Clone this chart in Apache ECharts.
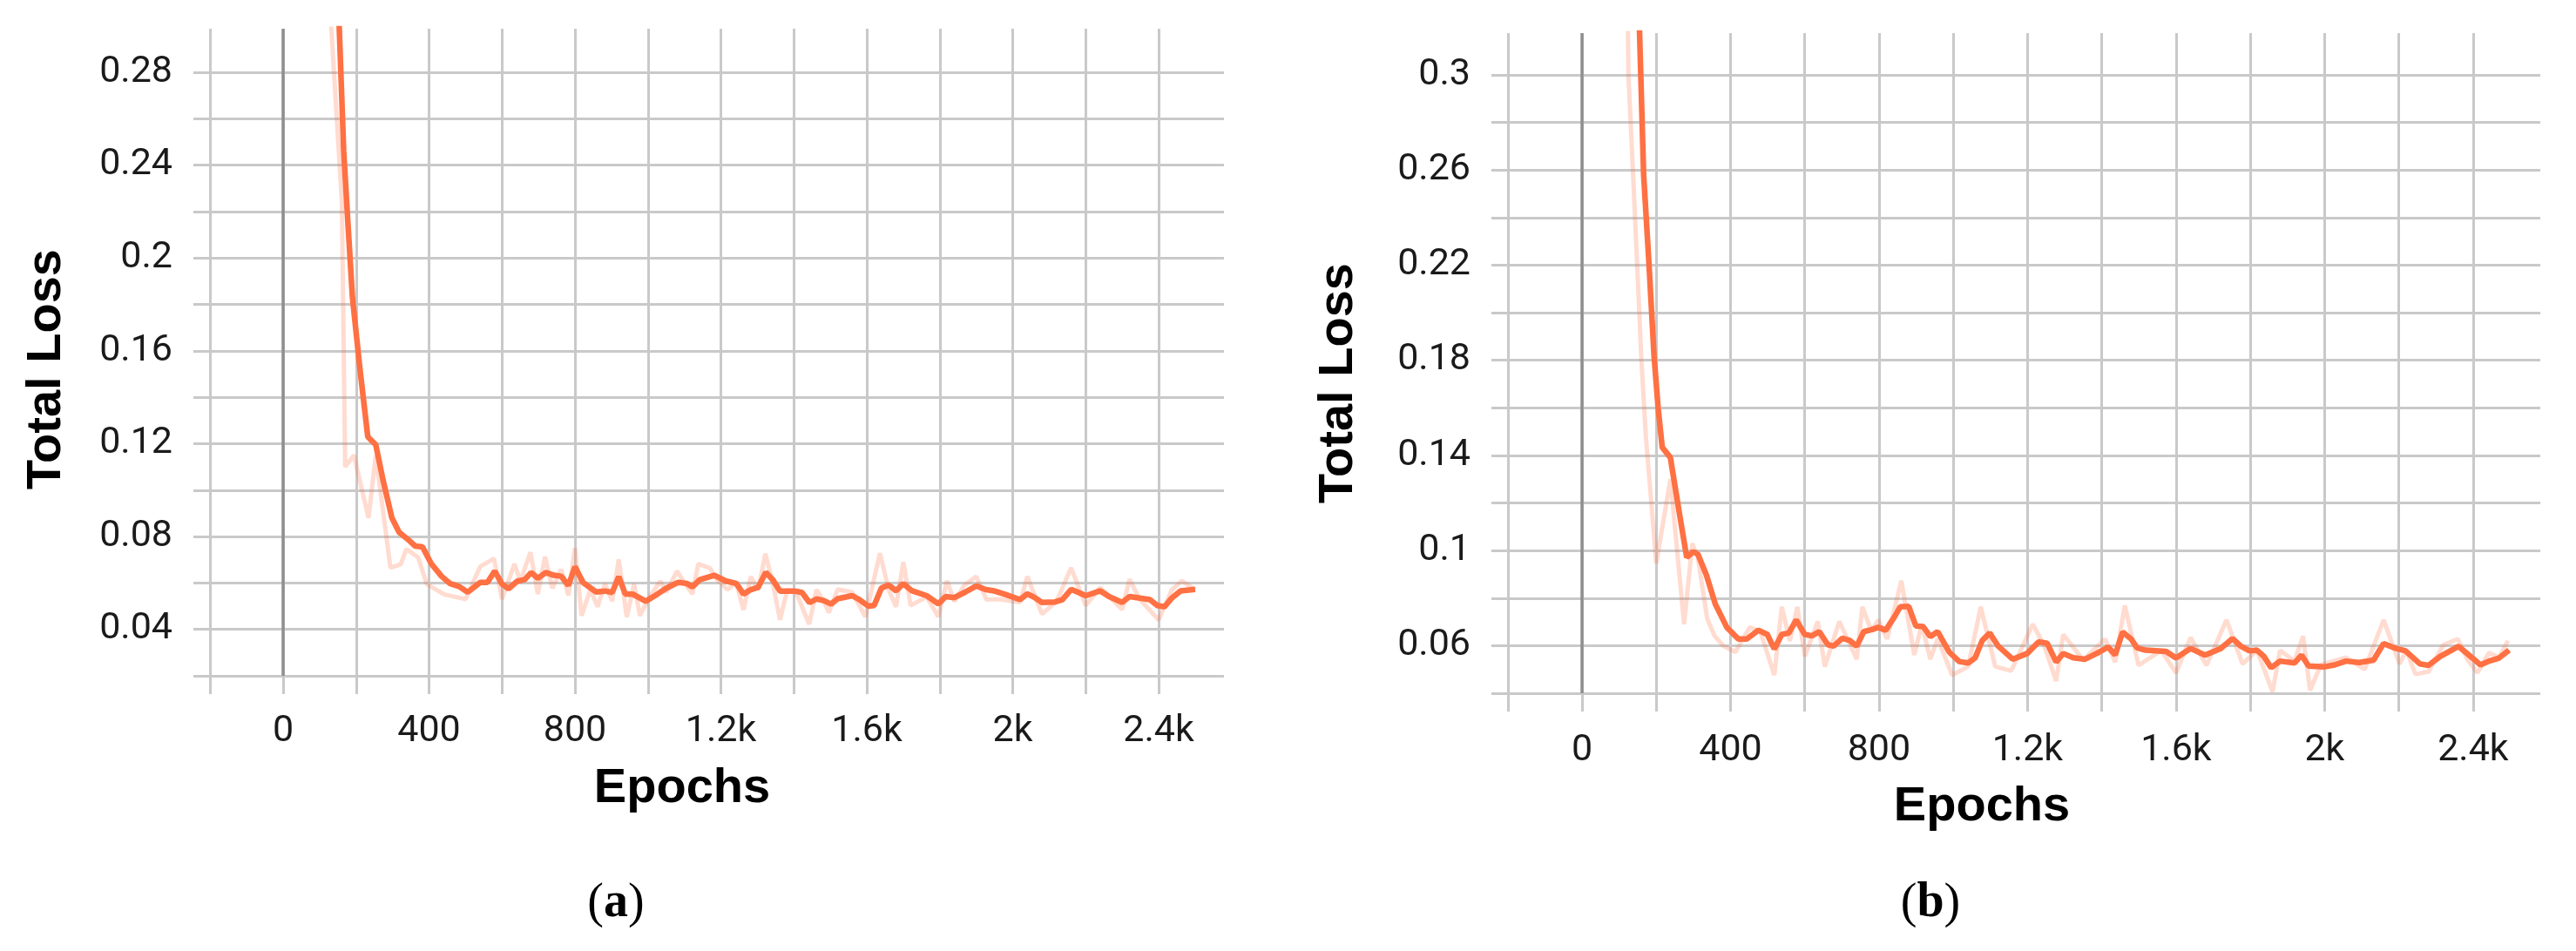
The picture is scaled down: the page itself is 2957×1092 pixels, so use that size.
<!DOCTYPE html>
<html><head><meta charset="utf-8">
<script src="https://cdn.jsdelivr.net/npm/echarts@6/dist/echarts.min.js"></script>
<style>html,body{margin:0;padding:0;background:#fff}#c{width:2957px;height:1092px}</style>
</head><body><div id="c"></div>
<script>
// ---- tick labels / gridlines ----
const xTickLabels = [0, 400, 800, 1200, 1600, 2000, 2400];
const xGridValues = [-200, 0, 200, 400, 600, 800, 1000, 1200, 1400, 1600, 1800, 2000, 2200, 2400];
const yTickLabelsA = [0.04, 0.08, 0.12, 0.16, 0.2, 0.24, 0.28];
const yGridValuesA = [0.02, 0.04, 0.06, 0.08, 0.1, 0.12, 0.14, 0.16, 0.18, 0.2, 0.22, 0.24, 0.26, 0.28];
const yTickLabelsB = [0.06, 0.1, 0.14, 0.18, 0.22, 0.26, 0.3];
const yGridValuesB = [0.04, 0.06, 0.08, 0.1, 0.12, 0.14, 0.16, 0.18, 0.2, 0.22, 0.24, 0.26, 0.28, 0.3];

// ---- series (epoch, loss) ----
const smoothA = [[140,0.345],[150,0.316],[166,0.246],[178,0.214],[190,0.183],[210,0.153],[232,0.123],[254,0.1195],[274,0.1042],[298,0.0881],[318,0.0818],[346,0.0782],[362,0.0759],[382,0.0755],[406,0.0683],[434,0.0629],[458,0.0597],[482,0.0585],[506,0.056],[540,0.0602],[560,0.0602],[580,0.0651],[600,0.0595],[618,0.0575],[642,0.0608],[662,0.0614],[680,0.0645],[698,0.062],[720,0.0645],[742,0.0633],[762,0.0629],[782,0.0589],[800,0.067],[822,0.0602],[858,0.0561],[882,0.0565],[902,0.0559],[920,0.0627],[938,0.0552],[958,0.0552],[994,0.0521],[1026,0.0552],[1050,0.0577],[1082,0.0602],[1106,0.0598],[1122,0.0583],[1142,0.0614],[1182,0.0633],[1214,0.0608],[1242,0.0598],[1262,0.0552],[1282,0.0571],[1302,0.0581],[1323,0.0645],[1342,0.0614],[1362,0.0565],[1402,0.0565],[1422,0.0559],[1443,0.0515],[1462,0.0531],[1482,0.0524],[1502,0.0509],[1520,0.0532],[1560,0.0545],[1580,0.0528],[1604,0.05],[1620,0.0503],[1640,0.0578],[1660,0.0591],[1680,0.0566],[1700,0.0597],[1724,0.0566],[1764,0.0545],[1796,0.051],[1816,0.0541],[1840,0.0537],[1868,0.0559],[1900,0.0587],[1924,0.0572],[1948,0.0566],[1980,0.055],[2020,0.0528],[2040,0.0553],[2060,0.0537],[2080,0.0516],[2116,0.0518],[2136,0.0528],[2160,0.0572],[2180,0.0559],[2200,0.0545],[2240,0.0566],[2264,0.0541],[2300,0.0516],[2320,0.0541],[2348,0.0535],[2376,0.0528],[2396,0.0503],[2416,0.0497],[2436,0.0535],[2460,0.0566],[2500,0.0572]];
const rawA = [[110,0.42],[132,0.299],[161,0.224],[170,0.11],[194,0.115],[234,0.088],[254,0.115],[294,0.0666],[322,0.068],[338,0.0746],[370,0.071],[394,0.0594],[442,0.055],[500,0.053],[540,0.067],[578,0.0705],[600,0.053],[634,0.0682],[650,0.0608],[678,0.0732],[698,0.0552],[718,0.0713],[738,0.0577],[762,0.0658],[782,0.0546],[800,0.075],[818,0.0459],[842,0.0571],[862,0.0497],[882,0.0596],[902,0.0521],[920,0.0701],[942,0.0453],[962,0.0596],[978,0.0459],[1002,0.0534],[1034,0.0608],[1050,0.056],[1080,0.0651],[1100,0.06],[1122,0.0552],[1138,0.0682],[1170,0.0664],[1186,0.062],[1218,0.0571],[1242,0.06],[1262,0.0484],[1282,0.0627],[1302,0.057],[1322,0.0726],[1342,0.06],[1362,0.0441],[1382,0.057],[1406,0.056],[1442,0.0422],[1462,0.0571],[1482,0.052],[1496,0.0472],[1520,0.0572],[1560,0.056],[1596,0.0454],[1636,0.0728],[1660,0.057],[1680,0.0497],[1700,0.069],[1720,0.0503],[1764,0.054],[1796,0.0454],[1820,0.0609],[1840,0.052],[1868,0.0591],[1900,0.0628],[1928,0.0528],[1964,0.053],[2020,0.0516],[2040,0.0628],[2080,0.0466],[2120,0.052],[2160,0.0665],[2200,0.0503],[2240,0.058],[2300,0.0485],[2320,0.0616],[2348,0.053],[2400,0.0441],[2436,0.057],[2464,0.0609],[2500,0.057]];
const smoothB = [[140,0.4],[150,0.345],[166,0.258],[180,0.2216],[194,0.182],[205,0.16],[216,0.1434],[238,0.1391],[260,0.1178],[282,0.0971],[300,0.0995],[312,0.0985],[335,0.0897],[359,0.0775],[390,0.0677],[421,0.0628],[444,0.0628],[475,0.0665],[499,0.0647],[518,0.0586],[538,0.0647],[557,0.0653],[577,0.0708],[600,0.0647],[619,0.0641],[639,0.0659],[662,0.0604],[678,0.0598],[701,0.0631],[721,0.0622],[740,0.0598],[759,0.0659],[779,0.0667],[798,0.0677],[818,0.0665],[841,0.072],[857,0.0763],[880,0.0765],[899,0.0683],[919,0.068],[938,0.0638],[958,0.0659],[989,0.0573],[1016,0.0533],[1040,0.0527],[1059,0.0549],[1078,0.0622],[1098,0.0653],[1121,0.0598],[1160,0.0543],[1199,0.0567],[1230,0.0616],[1253,0.061],[1277,0.0531],[1296,0.0567],[1323,0.0549],[1355,0.0543],[1386,0.0567],[1417,0.0594],[1436,0.0561],[1456,0.0657],[1479,0.0628],[1495,0.0591],[1518,0.0581],[1573,0.0576],[1600,0.0548],[1639,0.0588],[1678,0.056],[1720,0.0588],[1752,0.063],[1775,0.0597],[1798,0.0578],[1818,0.0581],[1837,0.0554],[1856,0.0507],[1880,0.0535],[1919,0.0527],[1938,0.056],[1957,0.0514],[2000,0.0511],[2027,0.0519],[2058,0.0535],[2093,0.0529],[2132,0.0539],[2159,0.0609],[2187,0.0591],[2218,0.0578],[2257,0.0523],[2280,0.0517],[2311,0.0554],[2361,0.0597],[2389,0.056],[2420,0.0519],[2443,0.0535],[2470,0.0548],[2497,0.0581]];
const rawB = [[105,0.6],[125,0.3],[140,0.25],[160,0.18],[172,0.148],[200,0.0946],[238,0.13],[275,0.069],[297,0.103],[312,0.097],[337,0.0715],[357,0.0641],[380,0.06],[413,0.0573],[452,0.0677],[480,0.066],[518,0.0476],[538,0.0763],[560,0.062],[580,0.0763],[600,0.0555],[635,0.0702],[654,0.0512],[693,0.0702],[740,0.0543],[755,0.0763],[780,0.066],[798,0.0708],[822,0.0628],[860,0.0873],[895,0.0561],[915,0.069],[938,0.0543],[958,0.063],[997,0.0476],[1040,0.0512],[1074,0.0763],[1113,0.0512],[1156,0.0494],[1214,0.069],[1245,0.06],[1277,0.0451],[1296,0.0647],[1350,0.054],[1409,0.0628],[1436,0.0531],[1462,0.0769],[1499,0.0517],[1560,0.058],[1600,0.0486],[1639,0.0634],[1682,0.0517],[1736,0.0708],[1779,0.0523],[1818,0.058],[1860,0.0406],[1880,0.058],[1919,0.0535],[1942,0.064],[1961,0.0412],[1990,0.052],[2058,0.055],[2108,0.05],[2159,0.0708],[2202,0.0523],[2220,0.058],[2245,0.048],[2280,0.049],[2320,0.0603],[2359,0.0628],[2385,0.054],[2412,0.0486],[2443,0.057],[2470,0.055],[2494,0.0621]];

// ---- layout ----
const panels = [
  {grid:{left:222, top:33, width:1183, height:764}, xMin:-246, xMax:2579, yMin:0.0121, yMax:0.2988,
   yLabels:yTickLabelsA, yGrid:yGridValuesA, smooth:smoothA, raw:rawA, xMargin:22},
  {grid:{left:1712, top:38, width:1204, height:779}, xMin:-244, xMax:2581, yMin:0.0323, yMax:0.3176,
   yLabels:yTickLabelsB, yGrid:yGridValuesB, smooth:smoothB, raw:rawB, xMargin:24}
];

const labelFont = {fontFamily:'Roboto', fontSize:43, color:'#1a1a1a'};
const fmtX = v => v === 0 ? '0' : (v >= 1000 ? (+(v/1000).toFixed(1)) + 'k' : String(v));
const fmtY = v => String(+v.toFixed(2));

const option = {
  animation:false,
  backgroundColor:'#fff',
  grid: panels.map(p => Object.assign({containLabel:false}, p.grid)),
  xAxis: panels.map((p,i) => ({
    type:'value', gridIndex:i, min:p.xMin, max:p.xMax,
    axisLine:{show:false}, axisTick:{show:false}, splitLine:{show:false},
    axisLabel:Object.assign({customValues:xTickLabels, formatter:fmtX, margin:p.xMargin}, labelFont)
  })),
  yAxis: panels.map((p,i) => ({
    type:'value', gridIndex:i, min:p.yMin, max:p.yMax,
    axisLine:{show:false}, axisTick:{show:false}, splitLine:{show:false},
    axisLabel:Object.assign({customValues:p.yLabels, formatter:fmtY, margin:24}, labelFont)
  })),
  series: []
};

panels.forEach((p,i) => {
  const gridLines = [];
  p.yGrid.forEach(v => gridLines.push({yAxis:v}));
  xGridValues.forEach(v => gridLines.push({xAxis:v}));
  gridLines.push([{coord:[0, p.yMax], lineStyle:{color:'#8f8f8f', width:3.5}}, {coord:[0, p.yGrid[0]]}]);
  option.series.push({
    type:'line', xAxisIndex:i, yAxisIndex:i, data:p.raw, symbol:'none', showSymbol:false,
    lineStyle:{color:'rgba(255,112,67,0.25)', width:5}, z:2, silent:true,
    markLine:{z:1, silent:true, symbol:['none','none'], label:{show:false},
      emphasis:{disabled:true}, animation:false,
      lineStyle:{color:'#c9c9c9', width:3, type:'solid'}, data:gridLines}
  });
  option.series.push({
    type:'line', xAxisIndex:i, yAxisIndex:i, data:p.smooth, symbol:'none', showSymbol:false,
    lineStyle:{color:'#ff7043', width:6.5}, z:3, silent:true
  });
});

const titleFont = 'bold 56px "Liberation Sans", Arial, sans-serif';
option.graphic = [
  {type:'text', x:783, y:906, style:{text:'Epochs', font:titleFont, fill:'#000', align:'center', verticalAlign:'middle'}},
  {type:'text', x:2275, y:927, style:{text:'Epochs', font:titleFont, fill:'#000', align:'center', verticalAlign:'middle'}},
  {type:'text', x:54, y:424, rotation:Math.PI/2, style:{text:'Total Loss', font:titleFont, fill:'#000', align:'center', verticalAlign:'middle'}},
  {type:'text', x:1537, y:440, rotation:Math.PI/2, style:{text:'Total Loss', font:titleFont, fill:'#000', align:'center', verticalAlign:'middle'}},
  {type:'text', x:707, y:1038, style:{text:'{n|(}{b|a}{n|)}', align:'center', verticalAlign:'middle',
    rich:{n:{font:'56px "Liberation Serif", serif', fill:'#000'}, b:{font:'bold 56px "Liberation Serif", serif', fill:'#000'}}}},
  {type:'text', x:2216, y:1038, style:{text:'{n|(}{b|b}{n|)}', align:'center', verticalAlign:'middle',
    rich:{n:{font:'56px "Liberation Serif", serif', fill:'#000'}, b:{font:'bold 56px "Liberation Serif", serif', fill:'#000'}}}}
];

const chart = echarts.init(document.getElementById('c'), null, {renderer:'canvas'});
chart.setOption(option);
</script>
</body></html>
